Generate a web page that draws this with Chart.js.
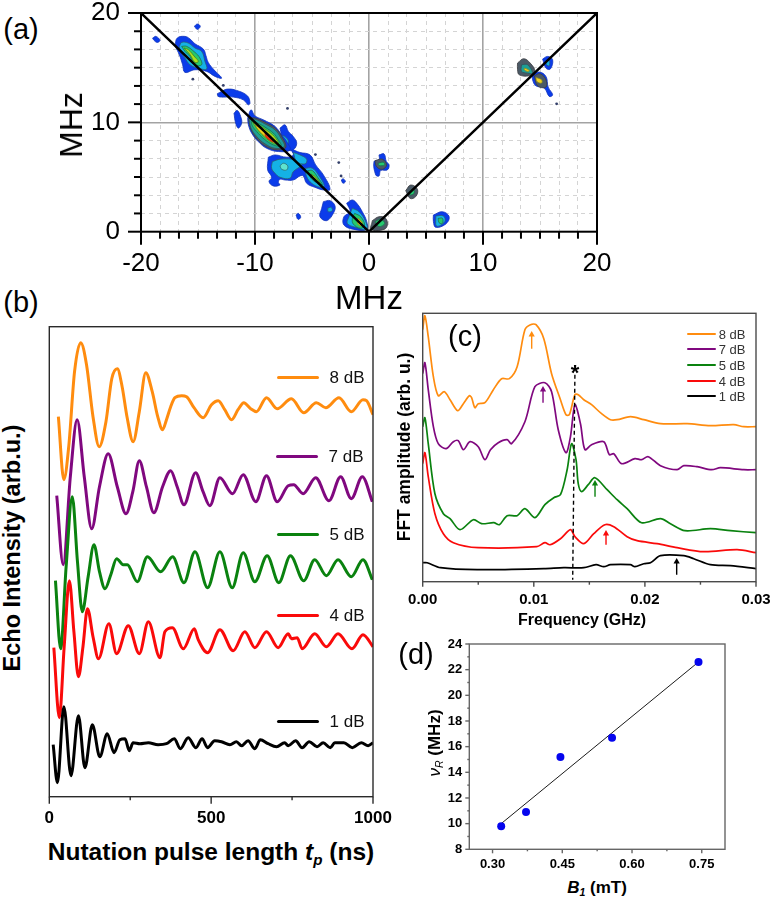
<!DOCTYPE html>
<html><head><meta charset="utf-8">
<style>
html,body{margin:0;padding:0;background:#fff;width:774px;height:901px;overflow:hidden}
body{position:relative;font-family:"Liberation Sans",Arial,sans-serif;color:#000}
canvas{position:absolute;display:block;filter:blur(.35px)}
.t{position:absolute;white-space:nowrap;line-height:1;transform:translate(-50%,-50%)}
.s{position:absolute}
sub{font-size:.62em;vertical-align:baseline;position:relative;top:.3em}
</style>
<script src="https://cdn.jsdelivr.net/npm/chart.js@4"></script>
</head><body>
<script>
/* ---------- panel (a): contour levels, values in MHz ---------- */
const aXMajor=[-20,-10,0,10,20];
const aYMajor=[0,10,20];
const aXMinor=[-18.33,-16.67,-15,-13.33,-11.67,-8.33,-6.67,-5,-3.33,-1.67,1.67,3.33,5,6.67,8.33,11.67,13.33,15,16.67,18.33];
const aYMinor=[1.67,3.33,5,6.67,8.33,11.67,13.33,15,16.67,18.33];
const aDiagonalX=[-20,0,20];
const aDiagonalY=[20,0,20];
const aSpeckX=[-15.45,-7.15,-4.7,-2.65,-2.45,16.46,-12.78];
const aSpeckY=[13.95,11.27,7.05,6.32,5.1,11.69,13.38];
const contourTopLeft=[
 {lv:'blue',x:[-17.02,-16.82,-16.14,-15.7,-15.27,-14.53,-14.3,-14.1,-13.6,-12.93,-13.51,-14.24,-15.27,-16.14,-16.35,-16.64],y:[17,17.71,17.86,17.62,17.19,16.7,16.09,15.48,14.81,14.05,14.2,14.66,14.81,14.57,15.27,16.19]},
 {lv:'cyan',x:[-16.64,-16.43,-15.85,-15.27,-14.68,-14.39,-14.24,-14.97,-15.7,-16.14,-16.52],y:[16.95,17.31,17.25,16.8,16.49,15.57,14.87,14.96,15.27,15.88,16.49]},
 {lv:'green',x:[-16.43,-16,-15.27,-14.83,-14.68,-15.27,-15.7,-16.14],y:[16.95,16.95,16.4,15.88,15.27,15.27,16.03,16.49]},
 {lv:'lime',x:[-16.23,-15.85,-15.27,-14.97,-15.27,-15.7],y:[16.8,16.64,15.97,15.57,15.48,16.19]},
 {lv:'blue',x:[-18.98,-18.69,-18.34,-18.57,-18.86],y:[17.71,17.86,17.5,17.31,17.5]},
 {lv:'blue',x:[-15.32,-15.06,-14.8,-15.06],y:[18.78,18.99,18.78,18.5]},
 {lv:'blue',x:[-13.31,-12.93,-12.43,-11.61,-10.67,-10.44,-10.59,-11.03,-11.9,-12.63,-12.93,-13.22],y:[12.61,12.83,13.04,12.92,12.43,11.76,11.61,12.06,12.31,12.31,12.31,12.37]},
 {lv:'blue',x:[-11.84,-11.55,-11.26,-11.17,-11.46,-11.7],y:[10.84,11.09,10.54,9.93,9.47,9.93]}
];
const contourCentre=[
 {lv:'blue',x:[-7.81,-7.37,-7.07,-6.64,-6.34,-6.64,-7.07,-7.51],y:[9.47,9.77,9.16,8.7,8.09,7.48,7.48,8.24]},
 {lv:'cyan',x:[-7.72,-7.37,-7.07,-7.37,-7.66],y:[8.85,8.7,8.24,7.63,8.24]},
 {lv:'blue',x:[-10.64,-10.35,-10,-9.27,-8.24,-7.66,-7.22,-6.93,-7.95,-8.98,-9.71,-10.29,-10.58],y:[10.38,11.14,10.59,10.23,9.62,8.85,8.24,7.48,7.33,7.63,8.24,9.01,9.77]},
 {lv:'slate',x:[-10.58,-10,-9.2,-8.2,-7.65,-7.3,-8.05,-9.05,-9.8,-10.35],y:[10.33,10.4,10.05,9.45,8.7,7.72,7.48,7.8,8.45,9.35]},
 {lv:'teal',x:[-10.52,-10,-9.12,-8.24,-7.72,-7.43,-8.24,-9.12,-9.85,-10.35],y:[10.29,10.29,9.86,9.31,8.55,7.79,7.63,8.03,8.7,9.47]},
 {lv:'green',x:[-10.35,-9.85,-9.12,-8.39,-7.95,-7.72,-8.39,-9.18,-9.85,-10.23],y:[10.17,9.98,9.56,9.01,8.4,7.85,7.94,8.46,9.16,9.68]},
 {lv:'lime',x:[-10.2,-9.7,-9,-8.3,-7.95,-8.4,-9.2,-9.85],y:[10,9.75,9.3,8.7,8.05,8.1,8.7,9.45]},
 {lv:'yellow',x:[-10,-9.41,-8.68,-8.1,-8.54,-9.27,-9.76],y:[9.77,9.37,8.85,8.15,8.24,8.85,9.37]},
 {lv:'red',x:[-9.12,-8.77,-8.39,-8.68,-9.06],y:[9.01,8.76,8.24,8.34,8.7]},
 {lv:'blue',x:[-8.83,-8.24,-7.22,-6.64,-6.78,-6.05,-5.17,-4.68,-4,-3.42,-4,-4.74,-5.47,-5.76,-6.05,-6.64,-7.37,-7.81,-7.95,-7.81,-8.39,-8.77,-8.54,-8.89],y:[6.81,7.02,6.81,7.02,7.48,7.24,7.02,6.11,5.19,3.88,3.82,4.06,4.43,5.1,5.1,4.73,4.73,4.8,4.49,4.28,4.18,4.58,4.98,5.65]},
 {lv:'cyan',x:[-8.48,-7.81,-6.78,-6.14,-5.9,-6.64,-6.93,-7.81,-8.24,-8.54],y:[6.41,6.63,6.63,6.41,6.11,5.5,4.89,4.98,5.34,5.8]},
 {lv:'mint',x:[-7.81,-7.51,-7.13,-7.22,-7.66],y:[6.02,6.26,6.02,5.65,5.71]},
 {lv:'cyan',x:[-6.64,-6.05,-5.47,-5.61,-6.34],y:[7.24,7.02,6.63,6.2,6.41]},
 {lv:'cyan',x:[-5.61,-4.97,-4.44,-3.92,-4.3,-5.03,-5.47],y:[5.8,5.8,5.19,4.18,4.06,4.43,5.04]},
 {lv:'green',x:[-5.38,-4.97,-4.5,-4.09,-4.59,-5.09],y:[5.59,5.59,4.98,4.28,4.49,4.89]},
 {lv:'lime',x:[-5.09,-4.68,-4.3,-4.74],y:[5.28,4.98,4.43,4.73]},
 {lv:'blue',x:[-2.43,-2.25,-2.07,-2.28],y:[4.73,4.83,4.58,4.43]},
 {lv:'blue',x:[-4,-3.42,-2.98,-3.13,-3.71,-4.3,-4.15],y:[2.75,2.84,2.35,1.68,1.01,1.37,2.14]},
 {lv:'cyan',x:[-3.62,-3.33,-3.22,-3.57],y:[2.14,2.23,1.93,1.83]},
 {lv:'blue',x:[-6.4,-6.2,-5.99,-6.23],y:[1.53,1.68,1.32,1.13]}
];
const contourOrigin=[
 {lv:'blue',x:[-1.96,-1.46,-1.02,-.59,-.2,-.2,-1.32,-2.2,-2.2,-1.67],y:[2.6,2.9,2.53,1.83,.92,.21,.21,.61,1.37,1.83]},
 {lv:'cyan',x:[-1.46,-.88,-.29,-.2,-1.17,-1.9,-1.76],y:[2.14,1.83,.92,.21,.4,.76,1.37]},
 {lv:'green',x:[-1.26,-.73,-.38,-.73,-1.38,-1.46],y:[1.68,1.37,.61,.31,.7,1.22]},
 {lv:'yellow',x:[-.97,-.59,-.73,-1.02],y:[1.22,.82,.52,.82]},
 {lv:'slate',x:[.29,.88,1.46,1.61,1.32,.2],y:[1.01,1.37,1.22,.61,.21,.21]},
 {lv:'green',x:[.53,1.02,1.38,.88],y:[.92,1.13,.76,.46]},
 {lv:'blue',x:[.88,1.32,1.52,1.76,1.61,1.02,.88,.59,.44,.88],y:[7.02,7.11,6.41,6.11,5.65,5.59,5.1,5.19,6.41,6.6]},
 {lv:'slate',x:[.53,1.17,1.55,1.17,.67],y:[6.5,6.63,6.11,5.71,5.95]},
 {lv:'green',x:[.79,1.26,1.38,.88],y:[6.26,6.35,6.11,6.05]},
 {lv:'slate',x:[3.22,3.66,4.25,4.1,3.6],y:[3.76,4.27,3.88,3.21,3.05]},
 {lv:'green',x:[3.51,3.89,3.95,3.6],y:[3.66,3.88,3.51,3.36]},
 {lv:'blue',x:[5.65,6.44,7.03,6.73,5.86,5.65],y:[1.53,1.83,1.37,.7,.4,.92]},
 {lv:'cyan',x:[5.86,6.53,6.65,5.94],y:[1.44,1.44,.92,.52]},
 {lv:'green',x:[6.06,6.44,6.44,6.15],y:[1.22,1.22,.76,.82]}
];
const contourTopRight=[
 {lv:'slate',x:[13.03,13.56,14.14,14.55,14.06,13.18,13.03],y:[15.42,15.82,15.42,14.66,14.26,14.35,14.81]},
 {lv:'teal',x:[13.38,13.91,14.35,13.91,13.38],y:[15.27,15.27,14.5,14.5,14.66]},
 {lv:'yellow',x:[13.67,14.06,13.91,13.62],y:[14.96,14.75,14.66,14.81]},
 {lv:'blue',x:[14.35,14.94,15.52,15.72,16.11,15.81,15.37,14.64,14.35],y:[14.35,14.6,14.2,13.22,12.52,12.37,13.13,13.34,13.89]},
 {lv:'slate',x:[14.5,15.02,15.52,15.52,14.79],y:[14.26,14.44,13.89,13.22,13.34]},
 {lv:'yellow',x:[14.64,15.14,15.14,14.73],y:[14.11,13.89,13.59,13.74]},
 {lv:'blue',x:[15.23,15.67,16.11,15.9,15.52],y:[15.79,16.03,15.73,14.87,14.96]},
 {lv:'cyan',x:[15.52,15.81,15.81,15.58],y:[15.57,15.66,15.18,15.24]}
];
const levelFill={blue:'#0b3cea',cyan:'#14b2e6',teal:'#1d9f96',mint:'#5fe3cf',green:'#24c96e',lime:'#a8e21e',yellow:'#f2d21c',red:'#ef3212',slate:'#4b5a66'};
const levelEdge={blue:'#1233bb',cyan:'#2b5f70',teal:'#33505a',mint:'#2b6f70',green:'#1f6a50',lime:'#4a7a20',yellow:'#8a8a20',red:'#b03010',slate:'#3c3c40'};

/* ---------- panel (b): nutation, x in ns, y in arb. u. ---------- */
const bXMajor=[0,500,1000];
const bXMinor=[250,750];
const nut8T=[28,45,60,78,97,115,135,154,175,193,210,225,240,259,278,298,318,335,350,362,375,388,409,424,447,475,501,522,542,563,583,601,622,640,671,704,748,786,825,854,895,933,969,980,1000];
const nut8Y=[380,317,350,425,454,432,380,350,375,418,428,410,380,355,385,424,405,380,367,377,390,399,401,400,389,379,392,396,387,377,387,394,388,385,399,388,398,384,394,389,399,385,397,396,382];
const nut7T=[23,43,65,86,108,131,155,182,210,237,258,278,300,323,350,375,395,416,452,475,496,527,566,599,638,671,704,738,755,784,823,864,900,933,967,998];
const nut7Y=[301,232,320,377,320,268,310,343,310,283,305,336,310,284,310,326,310,292,324,305,291,319,303,322,295,321,295,311,312,303,319,296,320,298,320,295];
const nut5T=[19,35,52,71,87,102,120,138,155,172,190,208,228,241,272,303,344,381,416,450,489,527,565,599,635,673,709,745,786,820,856,892,933,969,998];
const nut5Y=[216,148,230,300,235,185,220,252,225,208,222,238,232,232,215,240,225,240,214,245,209,245,209,244,215,241,214,241,216,237,221,237,220,237,217];
const nut4T=[14,31,46,62,76,90,104,118,135,152,184,208,244,278,306,342,357,380,414,448,460,489,527,568,604,635,671,707,738,748,766,781,820,856,892,935,969,1000];
const nut4Y=[149,79,150,216,165,120,150,188,160,138,173,143,171,143,175,139,165,169,148,168,157,144,167,146,165,149,165,149,163,158,159,148,163,150,163,148,162,150];
const nut1T=[12,25,45,67,90,110,133,156,179,200,218,234,247,259,280,306,336,362,386,405,429,453,472,489,511,532,558,578,594,614,635,652,676,702,727,738,761,781,803,827,846,868,882,910,936,964,985,1000];
const nut1Y=[52,14,90,21,81,29,72,40,63,44,57,58,46,54,53,54,52,53,58,48,59,49,58,49,56,55,52,55,51,56,48,57,53,50,54,51,56,49,55,50,54,49,54,54,49,54,51,54];

/* ---------- panel (c): FFT, x in GHz, y in arb. u. ---------- */
const cXMajor=[0,0.01,0.02,0.03];
const cXMinor=[0.005,0.015,0.025];
const fft8F=[0,.0002,.0005,.00096,.0014,.00195,.00246,.00315,.00366,.0042,.0044,.0047,.005,.0056,.00636,.0071,.0078,.0085,.0092,.0097,.0102,.0109,.0116,.0124,.0129,.0132,.0137,.014,.0145,.0152,.0161,.0169,.0175,.0187,.0199,.0214,.0238,.0259,.028,.0289,.03];
const fft8A=[252,266,245,205,186,190,182,171,178,186,184,174,178,179,192,203,203,215,252,257,257,243,208,182,167,167,187,187,182,177,168,162,162,165,162,158,158,156,157,155,155];
const fft7F=[0,.0002,.0005,.00096,.0014,.0021,.00276,.0032,.00366,.00426,.005,.0056,.0061,.0068,.0076,.008,.0092,.0101,.011,.0116,.0122,.0129,.0133,.0137,.0142,.0146,.0152,.0163,.0168,.0172,.0179,.0191,.0197,.0203,.0214,.0229,.0235,.0247,.026,.0268,.0289,.03];
const fft7A=[208,219,192,155,138,133,140,141,132,140,135,122,132,139,142,138,160,195,199,190,152,129,145,177,158,132,137,140,127,128,118,123,122,125,116,112,116,115,112,114,112,112];
const fft5F=[0,.0002,.0005,.0011,.00186,.00246,.00336,.00456,.0053,.0064,.0069,.0076,.0085,.0092,.0101,.011,.0118,.0124,.013,.0134,.0138,.014,.0143,.0149,.0155,.0166,.0175,.0184,.0197,.0214,.0223,.0236,.0259,.0277,.03];
const fft5A=[155,164,138,88,68,63,52,62,58,59,57,66,66,73,64,77,84,87,112,138,122,98,90,97,104,92,82,73,59,63,58,51,53,51,49];
const fft4F=[0,.0002,.0005,.0011,.00186,.00276,.005,.01026,.011,.01146,.0124,.0133,.0137,.0145,.0154,.0164,.0172,.0184,.0193,.0211,.0229,.0253,.0283,.03];
const fft4A=[118,129,105,68,48,39,34,35,39,37,43,52,45,38,48,57,55,45,41,38,34,30,32,29];
const fft1F=[0,.0004,.0016,.0049,.0109,.0127,.0145,.0156,.0163,.0169,.0187,.0191,.0199,.0205,.0214,.0235,.0244,.0259,.0277,.03];
const fft1A=[19,19,14,12,13,14,14,17,15,17,17,15,18,19,26,26,23,17,16,13];
const fftGuideF=[.0137,.0135];
const fftGuideA=[207,2];
const arrow8F=[.00981,.00981], arrow8A=[233,247];
const arrow7F=[.01083,.01083], arrow7A=[179,192];
const arrow5F=[.01551,.01551], arrow5A=[85,98];
const arrow4F=[.0165,.0165],  arrow4A=[37,48];
const arrow1F=[.02286,.02286], arrow1A=[7,20];

/* ---------- panel (d) ---------- */
const dXMajor=[0.30,0.45,0.60,0.75];
const dXMinor=[0.375,0.525,0.675];
const dYMajor=[8,10,12,14,16,18,20,22,24];
const dYMinor=[9,11,13,15,17,19,21,23];
const b1Values=[.3186,.372,.446,.557,.743];
const rabiValues=[9.8,10.9,15.2,16.7,22.6];
const fitB1=[.3186,.743];
const fitRabi=[10,22.6];

const ORANGE='#ff8c0f',PURPLE='#80087f',GREEN='#0a820f',RED='#fa0a0a',BLACK='#000';
const SANS='"Liberation Sans",Arial,sans-serif';
const pts=(xs,ys)=>xs.map((x,i)=>({x,y:ys[i]}));

const axisMarks={id:'axisMarks',afterDatasetsDraw(chart,_a,o){
  const {ctx,chartArea:c,scales:{x,y}}=chart;
  ctx.save();ctx.strokeStyle=o.color;ctx.lineWidth=o.width;
  ctx.strokeRect(c.left,c.top,c.width,c.height);
  const tx=(vals,len)=>(vals||[]).forEach(v=>{const p=x.getPixelForValue(v);ctx.beginPath();ctx.moveTo(p,c.bottom);ctx.lineTo(p,c.bottom+len);ctx.stroke();});
  const ty=(vals,len)=>(vals||[]).forEach(v=>{const p=y.getPixelForValue(v);ctx.beginPath();ctx.moveTo(c.left,p);ctx.lineTo(c.left-len,p);ctx.stroke();});
  tx(o.xMajor,o.major);tx(o.xMinor,o.minor);ty(o.yMajor,o.major);ty(o.yMinor,o.minor);
  ctx.restore();
}};
function makeChart(box,datasets,opts){
  const cv=document.createElement('canvas');
  cv.width=box.w;cv.height=box.h;
  cv.style.left=box.l+'px';cv.style.top=box.t+'px';cv.style.width=box.w+'px';cv.style.height=box.h+'px';
  document.body.appendChild(cv);
  return new Chart(cv,{type:'line',data:{datasets},plugins:[axisMarks],options:{
    responsive:false,animation:false,devicePixelRatio:1,
    layout:{padding:{top:box.pt,right:box.pr,left:0,bottom:0}},
    elements:{point:{radius:0,hitRadius:0}},
    plugins:{legend:{display:false},tooltip:{enabled:false},axisMarks:opts.marks},
    scales:{x:opts.x,y:opts.y}
  }});
}
const flat=s=>{s.paddingTop=s.paddingBottom=s.paddingLeft=s.paddingRight=0;};
function xScale(min,max,height,ticks,fmt,font,pad,extra){
  return Object.assign({type:'linear',min,max,afterFit(s){s.height=height;flat(s);},
    afterBuildTicks(s){s.ticks=ticks.map(value=>({value}));},
    border:{display:false},grid:{display:false,drawTicks:false},
    ticks:{autoSkip:false,maxRotation:0,minRotation:0,padding:pad,font,color:'#000',callback:fmt}},extra||{});
}
function yScale(min,max,width,ticks,fmt,font,pad,extra){
  return Object.assign({type:'linear',min,max,afterFit(s){s.width=width;flat(s);},
    afterBuildTicks(s){s.ticks=ticks.map(value=>({value}));},
    border:{display:false},grid:{display:false,drawTicks:false},
    ticks:{display:!!ticks.length,autoSkip:false,padding:pad,font,color:'#000',callback:fmt}},extra||{});
}
const curve=(xs,ys,color,width,tension)=>Object.assign({data:pts(xs,ys),borderColor:color,borderWidth:width,pointRadius:0,fill:false},
  tension?{tension}:{cubicInterpolationMode:'monotone'});

/* panel (a) */
const allContours=[...contourTopLeft,...contourCentre,...contourOrigin,...contourTopRight];
const aSets=allContours.map(c=>({
  data:pts([...c.x,c.x[0]],[...c.y,c.y[0]]),fill:'shape',backgroundColor:levelFill[c.lv],
  borderColor:levelEdge[c.lv],borderWidth:.8,tension:.4,pointRadius:0}));
aSets.push({data:pts(aSpeckX,aSpeckY),showLine:false,pointRadius:1.4,pointBackgroundColor:'#34406a',pointBorderWidth:0});
aSets.push({data:pts(aDiagonalX,aDiagonalY),borderColor:'#000',borderWidth:2.4,pointRadius:0});
const minorGrid=(majors)=>({display:true,drawTicks:false,
  color:ctx=>majors.includes(ctx.tick&&ctx.tick.value)?'#a3a3a3':'#d4d4d4',
  lineWidth:ctx=>majors.includes(ctx.tick&&ctx.tick.value)?1.6:1});
const dashFn=(majors)=>({display:false,dash:ctx=>majors.includes(ctx.tick&&ctx.tick.value)?[]:[4,4]});
const aFont={family:SANS,size:26};
const aX=[...aXMajor,...aXMinor].sort((p,q)=>p-q), aY=[...aYMajor,...aYMinor].sort((p,q)=>p-q);
makeChart({l:85,t:0,w:540,h:285,pt:13,pr:28},aSets.reverse(),{
  marks:{color:'#000',width:2,major:13,minor:7,xMajor:aXMajor,xMinor:aXMinor,yMajor:aYMajor,yMinor:aYMinor},
  x:xScale(-20,20,53.3,aX,v=>aXMajor.includes(v)?String(v):'',aFont,17,{grid:minorGrid([-10,0,10]),border:dashFn([-10,0,10])}),
  y:yScale(0,20,56,aY,v=>aYMajor.includes(v)?String(v):'',aFont,21,{grid:minorGrid([10]),border:dashFn([10])})
});

/* panel (b) */
const bFont={family:SANS,size:17,weight:'bold'};
makeChart({l:30,t:320,w:368,h:510,pt:6.7,pr:25},[
  curve(nut1T,nut1Y,BLACK,3),curve(nut4T,nut4Y,RED,3),curve(nut5T,nut5Y,GREEN,3),curve(nut7T,nut7Y,PURPLE,3),curve(nut8T,nut8Y,ORANGE,3)
],{
  marks:{color:'#2a2a2a',width:1.4,major:7,minor:3.5,xMajor:bXMajor,xMinor:bXMinor},
  x:xScale(0,1000,33.3,[...bXMajor,...bXMinor].sort((p,q)=>p-q),v=>bXMajor.includes(v)?String(v):'',bFont,11),
  y:yScale(0,470,19.3,[],()=>'',bFont,0)
});

/* panel (c) */
const cFont={family:SANS,size:15,weight:'bold'};
const arrow=(xs,ys,color)=>({data:pts(xs,ys),borderColor:color,backgroundColor:color,borderWidth:1.4,pointStyle:'triangle',pointBorderWidth:0,
  pointRadius:[0,3.6],pointBackgroundColor:color});
makeChart({l:405,t:305,w:365,h:305,pt:8.3,pr:14},[
  arrow(arrow1F,arrow1A,BLACK),arrow(arrow4F,arrow4A,RED),arrow(arrow5F,arrow5A,GREEN),arrow(arrow7F,arrow7A,PURPLE),arrow(arrow8F,arrow8A,ORANGE),
  {data:pts(fftGuideF,fftGuideA),borderColor:'#000',borderWidth:1.4,borderDash:[4,3],pointRadius:0},
  curve(fft1F,fft1A,BLACK,1.7,.3),curve(fft4F,fft4A,RED,1.7,.3),curve(fft5F,fft5A,GREEN,1.7,.3),curve(fft7F,fft7A,PURPLE,1.7,.3),curve(fft8F,fft8A,ORANGE,1.7,.3)
],{
  marks:{color:'#4a4a4a',width:1.4,major:5,minor:3,xMajor:cXMajor,xMinor:cXMinor},
  x:xScale(0,.03,28.3,[...cXMajor,...cXMinor].sort((p,q)=>p-q),v=>cXMajor.includes(v)?v.toFixed(2):'',cFont,9),
  y:yScale(0,268.4,17.7,[],()=>'',cFont,0)
});

/* panel (d) */
const dFont={family:SANS,size:13,weight:'bold'};
makeChart({l:440,t:635,w:300,h:240,pt:9,pr:15},[
  {data:pts(b1Values,rabiValues),showLine:false,pointRadius:4,pointBackgroundColor:'#0505ee',pointBorderWidth:0},
  {data:pts(fitB1,fitRabi),borderColor:'#1a1a1a',borderWidth:1,pointRadius:0}
],{
  marks:{color:'#666',width:1.4,major:4,minor:2,xMajor:dXMajor,xMinor:dXMinor,yMajor:dYMajor,yMinor:dYMinor},
  x:xScale(.25,.80,25.7,[...dXMajor,...dXMinor].sort((p,q)=>p-q),v=>dXMajor.includes(v)?v.toFixed(2):'',dFont,7),
  y:yScale(8,24,29.3,[...dYMajor,...dYMinor].sort((p,q)=>p-q),v=>dYMajor.includes(v)?String(v):'',dFont,7)
});

/* text placed by centre point, and in-plot keys */
function label(html,x,y,css,rot){
  const d=document.createElement('div');d.className='t';d.innerHTML=html;d.style.left=x+'px';d.style.top=y+'px';
  d.style.cssText+=css;
  if(rot)d.style.transform='translate(-50%,-50%) rotate(-90deg)';
  document.body.appendChild(d);
}
function swatch(x,y,w,h,color){
  const d=document.createElement('div');d.className='s';
  d.style.cssText+=`left:${x}px;top:${Math.round(y-h/2)}px;width:${w}px;height:${h}px;background:${color};border-radius:1.5px`;
  document.body.appendChild(d);
}
label('(a)',21,29,'font-size:29px');
label('(b)',21,302,'font-size:29px');
label('(c)',465,336,'font-size:29px');
label('(d)',416,654,'font-size:29px');
label('MHz',71,125,'font-size:32px',true);
label('MHz',369,297,'font-size:33px');
label('Echo Intensity (arb.u.)',13,548,'font-size:23.5px;font-weight:bold',true);
label('Nutation pulse length <i>t<sub>p</sub></i> (ns)',211,852,'font-size:24.5px;font-weight:bold');
label('FFT amplitude (arb. u.)',405,447,'font-size:17.5px;font-weight:bold',true);
label('Frequency (GHz)',582,620,'font-size:16px;font-weight:bold');
label('*',575,373,'font-size:22px;font-weight:bold');
label('<i style="font-weight:normal">ν<sub>R</sub></i> (MHz)',434,743,'font-size:17px;font-weight:bold',true);
label('<i>B<sub>1</sub></i> (mT)',597,887,'font-size:17px;font-weight:bold');

const bKey=[['8 dB',377,ORANGE,277],['7 dB',456,PURPLE,276],['5 dB',534,GREEN,277],['4 dB',615,RED,277],['1 dB',721,BLACK,277]];
bKey.forEach(([txt,y,col,x])=>{swatch(x,y,42,3,col);label(txt,x+70,y,'font-size:17px;color:#111');});
const cKey=[['8 dB',334,ORANGE],['7 dB',349,PURPLE],['5 dB',365,GREEN],['4 dB',381,RED],['1 dB',396,BLACK]];
cKey.forEach(([txt,y,col])=>{swatch(687,y,29,2,col);label(txt,732,y,'font-size:13px;color:#333');});
</script>
</body></html>
